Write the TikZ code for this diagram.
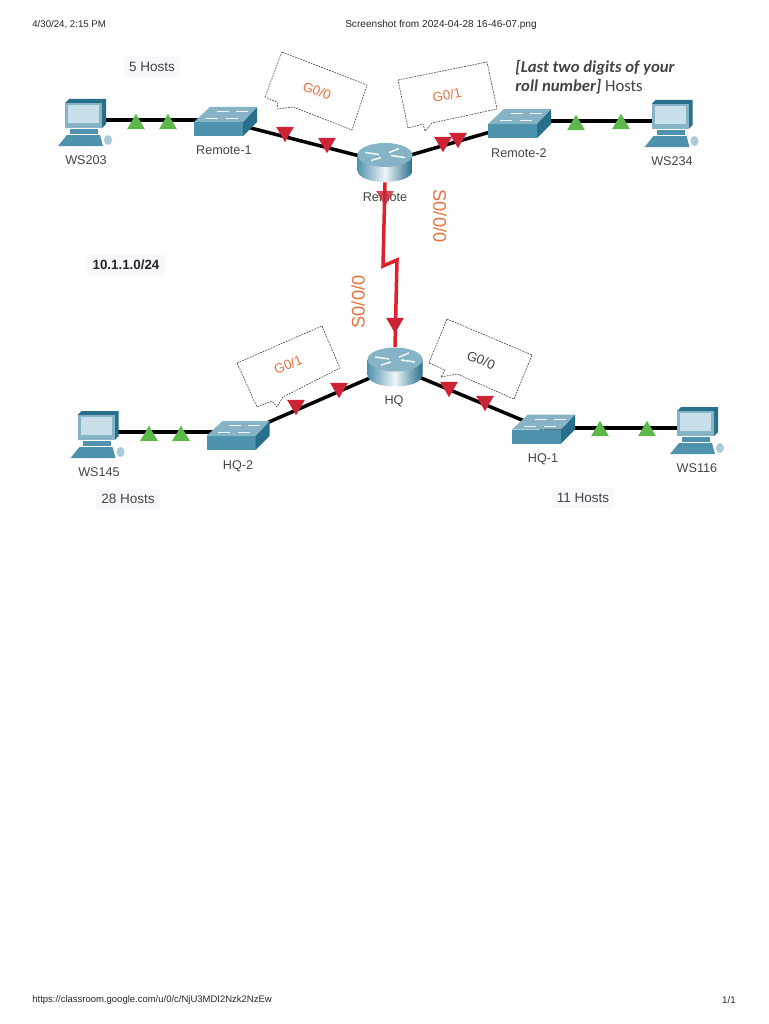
\documentclass[tikz,border=0pt]{standalone}
\usepackage{fontspec}
\setmainfont{Liberation Sans}
\newfontfamily\notefont{Carlito}
\usepackage{xcolor}
\usetikzlibrary{shapes.geometric, positioning}

\definecolor{ciscotop}{HTML}{86B4C6}
\definecolor{ciscofront}{HTML}{4F92AD}
\definecolor{ciscoside}{HTML}{26708C}
\definecolor{ciscoscreen}{HTML}{C9DFE9}
\definecolor{linkgreen}{HTML}{5CB84A}
\definecolor{linkred}{HTML}{CE2334}
\definecolor{serialred}{HTML}{E0202A}
\definecolor{ifaceorange}{HTML}{E8703F}
\definecolor{labelgray}{HTML}{444444}
\definecolor{labelback}{HTML}{F8F8FC}

\tikzset{
    pcicon/.pic={
        \fill[ciscoside] (-20.5,-17) -- (-16.5,-21) -- (20.5,-21) -- (20.5,4) -- (16.5,8) -- (16.5,-17) -- cycle;
        \fill[ciscotop] (-20.5,-17) rectangle (16.5,8);
        \fill[ciscoscreen] (-17.5,-15) rectangle (13.5,3);
        \fill[ciscofront] (-15.5,9) rectangle (12.5,13.5);
        \fill[ciscofront] (-18.5,15) -- (14.5,15) -- (17.5,26) -- (-27.5,26) -- cycle;
        \fill[ciscotop!70] (22.5,20) ellipse [x radius=4, y radius=5];
    },
    switchicon/.pic={
        \fill[ciscofront] (-31.5,0.5) rectangle (17.5,14.5);
        \fill[ciscoside] (17.5,0.5) -- (31.5,-14.5) -- (31.5,0.5) -- (17.5,14.5) -- cycle;
        \fill[ciscotop] (-31.5,0.5) -- (-15.5,-14.5) -- (31.5,-14.5) -- (17.5,0.5) -- cycle;
        \draw[white!85!ciscotop, line width=0.5pt]
            (-9,-10) -- (3,-10) (10,-10) -- (22,-10)
            (-20,-3) -- (-8,-3) (0,-3) -- (12,-3);
    },
    routericon/.pic={
        \shade[left color=ciscofront, right color=ciscoside, middle color=white!70!ciscoscreen]
            (-27.5,-7.5) -- (-27.5,7.5) .. controls (-27.5,23.5) and (27.5,23.5) .. (27.5,7.5) -- (27.5,-7.5) -- cycle;
        \fill[ciscotop] (0,-7.5) ellipse [x radius=27.5, y radius=12];
        \draw[white!85!ciscotop, line width=0.9pt]
            (-20,-10) -- (-6,-8) (20,-5) -- (6,-7)
            (-14,-2) -- (-4,-5) (14,-14) -- (4,-10);
    },
    pcbox/.style={minimum width=0.82cm, minimum height=0.84cm, inner sep=0pt},
    switchbox/.style={minimum width=1.26cm, minimum height=0.58cm, inner sep=0pt},
    routerbox/.style={minimum width=1.1cm, minimum height=0.78cm, inner sep=0pt},
    devlabel/.style={font=\fontsize{7.2}{8.6}\selectfont, text=labelgray, inner sep=1pt},
    hostlabel/.style={font=\fontsize{7.7}{9}\selectfont, text=labelgray, fill=labelback, inner sep=3pt},
    iflabel/.style={font=\fontsize{7.6}{9}\selectfont, text=ifaceorange, inner sep=0pt},
    serlabel/.style={font=\fontsize{10.4}{12}\selectfont, text=ifaceorange, inner sep=0pt},
    pagelabel/.style={font=\fontsize{5.5}{6.6}\selectfont, text=black!85, inner sep=0pt},
    uptri/.style={regular polygon, regular polygon sides=3, fill=linkgreen, minimum size=0.41cm, inner sep=0pt},
    downtri/.style={regular polygon, regular polygon sides=3, shape border rotate=180, fill=linkred, minimum size=0.41cm, inner sep=0pt},
    ethlink/.style={draw=black, line width=2pt},
    seriallink/.style={draw=serialred, line width=2pt},
    bubble/.style={draw=black!75, dash pattern=on 1pt off 0.6pt, line width=0.35pt, fill=white},
}

\begin{document}
\begin{tikzpicture}[x=0.02cm, y=-0.02cm]
\useasboundingbox (0,0) rectangle (768,1024);

% Page header and footer
\node[pagelabel, anchor=west] (pagedate) at (32,25) {4/30/24, 2:15 PM};
\node[pagelabel, font=\fontsize{5.75}{6.6}\selectfont] (pagetitle) at (441,25) {Screenshot from 2024-04-28 16-46-07.png};
\node[pagelabel, anchor=west, font=\fontsize{5.4}{6.6}\selectfont] (pageurl) at (32,1000) {https://classroom.google.com/u/0/c/NjU3MDI2Nzk2NzEw};
\node[pagelabel, anchor=east] (pagecount) at (736,1000) {1/1};

% Devices
\node[pcbox] (ws203) at (85.5,120) {};
\node[pcbox] (ws234) at (672,121) {};
\node[pcbox] (ws145) at (98,432) {};
\node[pcbox] (ws116) at (697.5,428) {};
\node[switchbox] (remote1) at (225.5,121.5) {};
\node[switchbox] (remote2) at (519.5,123.5) {};
\node[switchbox] (hq2) at (238,435.5) {};
\node[switchbox] (hq1) at (543.5,429) {};
\node[routerbox] (remote) at (385,162.5) {};
\node[routerbox] (hq) at (395,367) {};
\coordinate (kinka) at (383,266);
\coordinate (kinkb) at (397,260);

% Links
\draw[ethlink] (ws203.center) -- (ws203.center -| remote1.center);
\draw[ethlink] (remote1.center) -- (remote.center);
\draw[ethlink] (remote.center) -- (remote2.center);
\draw[ethlink] (ws234.center -| remote2.center) -- (ws234.center);
\draw[ethlink] (ws145.center) -- (ws145.center -| hq2.center);
\draw[ethlink] (hq2.center) -- (hq.center);
\draw[ethlink] (hq.center) -- (hq1.center);
\draw[ethlink] (ws116.center -| hq1.center) -- (ws116.center);
\draw[seriallink] (remote.south) -- (kinka) -- (kinkb) -- (hq.north);

% Icons
\pic at (ws203) {pcicon};
\pic at (ws234) {pcicon};
\pic at (ws145) {pcicon};
\pic at (ws116) {pcicon};
\pic at (remote1) {switchicon};
\pic at (remote2) {switchicon};
\pic at (hq2) {switchicon};
\pic at (hq1) {switchicon};
\pic at (remote) {routericon};
\pic at (hq) {routericon};

% Speech bubbles
\draw[bubble] (282,52) -- (367,85) -- (352,130) -- (293,107) -- (278,109) -- (277,102) -- (265,97) -- cycle;
\draw[bubble] (398,80) -- (487,62) -- (497,109) -- (432,123) -- (425,131) -- (423,124) -- (408,128) -- cycle;
\draw[bubble] (237,363) -- (322,326) -- (340,368) -- (283,397) -- (277,407) -- (272,401) -- (257,407) -- cycle;
\draw[bubble] (447,319) -- (532,355) -- (514,399) -- (457,374) -- (441,377) -- (445,370) -- (429,363) -- cycle;

% Device labels
\node[devlabel] (lblws203) at (86,160) {WS203};
\node[devlabel] (lblws234) at (672,161) {WS234};
\node[devlabel] (lblws145) at (99,472) {WS145};
\node[devlabel] (lblws116) at (697,468) {WS116};
\node[devlabel] (lblremote1) at (224,150) {Remote-1};
\node[devlabel] (lblremote2) at (519,153) {Remote-2};
\node[devlabel] (lblhq2) at (238,466) {HQ-2};
\node[devlabel] (lblhq1) at (543,459) {HQ-1};
\node[devlabel] (lblremote) at (385,197) {Remote};
\node[devlabel] (lblhq) at (394,401) {HQ};

% Triangles on the links
\node[uptri] (ta1) at (136,124) {};
\node[uptri] (ta2) at (168,124) {};
\node[uptri] (tb1) at (576,125) {};
\node[uptri] (tb2) at (621,124) {};
\node[uptri] (tc1) at (149,436) {};
\node[uptri] (tc2) at (181,436) {};
\node[uptri] (td1) at (600,431) {};
\node[uptri] (td2) at (647,431) {};
\node[downtri] (te1) at (285,132) {};
\node[downtri] (te2) at (327,143) {};
\node[downtri] (tf1) at (443,142) {};
\node[downtri] (tf2) at (458,138) {};
\node[downtri] (tg1) at (296,405) {};
\node[downtri] (tg2) at (339,388) {};
\node[downtri] (th1) at (449,387) {};
\node[downtri] (th2) at (485,401) {};
\node[downtri, opacity=0.8] (ti1) at (385,196) {};
\node[downtri] (ti2) at (395,323) {};

% Interface labels
\node[iflabel, rotate=-21] (ifremotea) at (317,91) {G0/0};
\node[iflabel, rotate=11] (ifremoteb) at (447,95) {G0/1};
\node[iflabel, rotate=22] (ifhqb) at (288,365) {G0/1};
\node[iflabel, rotate=-22, text=labelgray] (ifhqa) at (481,360) {G0/0};
\node[serlabel, rotate=-90] (serremote) at (440,216) {S0/0/0};
\node[serlabel, rotate=90] (serhq) at (358,302) {S0/0/0};

% Notes
\node[hostlabel] (hosts5) at (152,67) {5 Hosts};
\node[hostlabel] (hosts28) at (128,499) {28 Hosts};
\node[hostlabel] (hosts11) at (583,498) {11 Hosts};
\node[hostlabel, font=\fontsize{7.6}{9}\selectfont\bfseries, text=black!85] (subnet) at (126,265) {10.1.1.0/24};
\node[anchor=north west, align=left, inner sep=0pt, text=labelgray,
    font=\notefont\fontsize{9.5}{10.9}\selectfont] (rollnote) at (515,60)
    {\textbf{\textit{[Last two digits of your}}\\\textbf{\textit{roll number]}} Hosts};

\end{tikzpicture}
\end{document}
